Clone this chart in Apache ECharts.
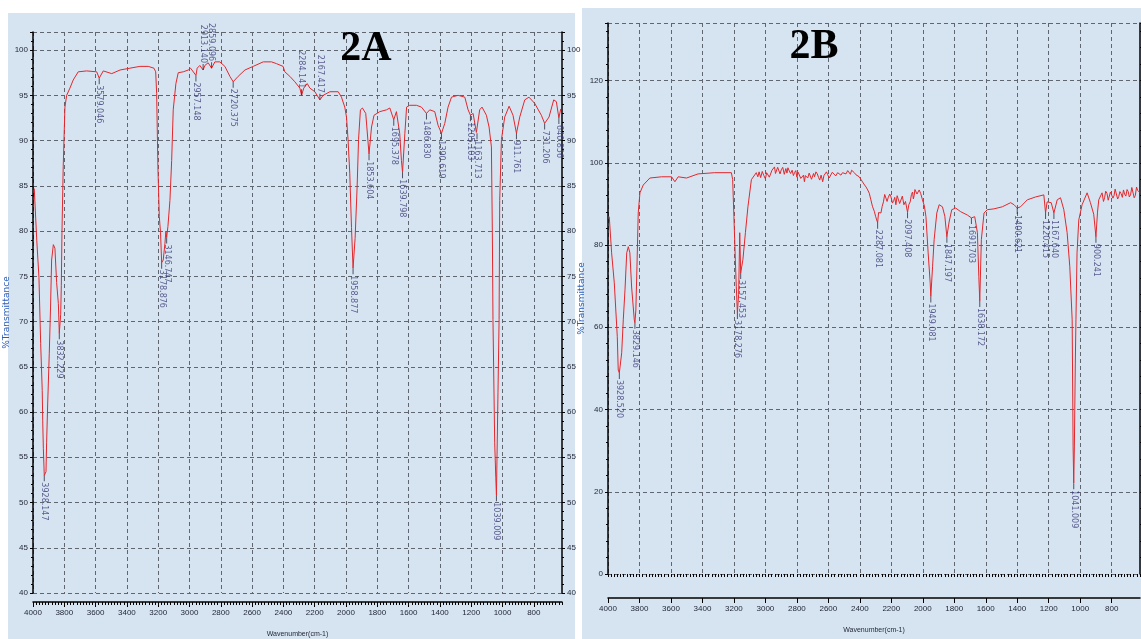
<!DOCTYPE html>
<html><head><meta charset="utf-8">
<script src="https://cdn.jsdelivr.net/npm/echarts@6/dist/echarts.min.js"></script>
<style>
html,body{margin:0;padding:0;background:#fff;}
#wrap{position:relative;width:1141px;height:639px;overflow:hidden;}
.bg{position:absolute;background:#d6e4f2;}
#c{position:absolute;left:0;top:0;width:1141px;height:639px;}
</style>
</head><body>
<div id="wrap">
<div class="bg" style="left:8px;top:13px;width:567px;height:626px;"></div>
<div class="bg" style="left:582px;top:8px;width:559px;height:631px;"></div>
<div id="c"></div>
</div>
<script>
// ---- data ----
const xTickValues = [4000,3800,3600,3400,3200,3000,2800,2600,2400,2200,2000,1800,1600,1400,1200,1000,800];

const spectrumA = [
[3992,84.7],[3976,79.0],[3962,74.9],[3951,67.6],[3941,62.4],[3938,59.1],[3934,56.0],[3928,53.0],[3917,53.4],[3913,56.6],
[3906,61.0],[3896,66.5],[3888,71.5],[3881,76.8],[3870,78.5],[3860,78.1],[3849,74.3],[3838,72.0],[3832,68.7],[3823,70.8],
[3819,74.0],[3815,79.8],[3807,87.1],[3796,93.7],[3785,95.0],[3764,95.8],[3743,96.7],[3711,97.6],[3657,97.7],[3593,97.6],
[3577,96.9],[3551,97.7],[3497,97.4],[3444,97.8],[3381,98.0],[3317,98.2],[3264,98.2],[3227,98.0],[3216,97.6],[3210,95.2],
[3202,87.1],[3193,81.6],[3185,79.8],[3178,76.5],[3168,76.8],[3157,78.6],[3151,80.0],[3146,79.3],[3138,80.5],[3125,83.4],
[3114,87.8],[3104,93.4],[3087,96.3],[3072,97.5],[3040,97.6],[3008,97.8],[2993,98.0],[2959,97.2],[2951,98.0],[2934,98.3],
[2913,97.8],[2902,98.3],[2881,98.6],[2859,98.0],[2838,98.7],[2806,98.7],[2774,98.2],[2742,97.1],[2721,96.5],[2689,97.1],
[2646,97.8],[2593,98.2],[2529,98.7],[2476,98.7],[2444,98.5],[2402,98.2],[2391,97.6],[2359,97.1],[2327,96.5],[2295,95.8],
[2284,95.0],[2270,95.8],[2248,96.3],[2231,95.8],[2199,95.4],[2167,94.5],[2146,95.0],[2103,95.4],[2050,95.4],[2029,94.8],
[2008,93.7],[1997,92.6],[1987,90.1],[1976,86.4],[1965,80.4],[1955,75.9],[1942,79.2],[1929,84.9],[1920,90.1],[1908,93.4],
[1895,93.6],[1874,93.0],[1853,88.5],[1837,91.5],[1821,92.8],[1784,93.2],[1741,93.4],[1720,93.6],[1695,92.3],[1678,93.2],
[1657,90.8],[1646,87.8],[1639,86.5],[1624,90.8],[1613,93.7],[1593,93.9],[1550,93.9],[1518,93.7],[1486,93.0],[1465,93.4],
[1433,93.2],[1412,91.7],[1390,90.8],[1369,91.9],[1348,93.7],[1326,94.8],[1284,95.0],[1241,94.8],[1220,93.4],[1205,92.8],
[1188,93.0],[1167,90.9],[1163,90.8],[1146,93.4],[1131,93.7],[1103,92.8],[1086,91.5],[1071,89.3],[1065,79.8],[1061,70.2],
[1050,56.6],[1043,52.8],[1039,50.8],[1029,62.2],[1022,70.2],[1018,83.4],[1007,90.1],[986,92.6],[958,93.8],[933,92.8],
[911,90.8],[890,92.6],[858,94.5],[831,94.8],[794,94.1],[752,92.8],[731,91.9],[703,92.6],[673,94.5],[656,94.3],
[640,92.5],[628,93.5]
];

const spectrumB = [
[3992,86.9],[3977,78.1],[3960,70.8],[3941,57.7],[3935,49.6],[3928,48.9],[3913,53.8],[3903,61.8],[3892,69.1],[3881,78.1],
[3871,79.6],[3861,78.1],[3850,69.8],[3833,61.8],[3829,61.1],[3823,64.2],[3816,74.7],[3808,87.8],[3797,92.7],[3776,94.6],
[3734,96.3],[3660,96.6],[3596,96.6],[3575,95.4],[3554,96.6],[3501,96.3],[3428,97.3],[3322,97.6],[3216,97.6],[3208,95.9],
[3200,86.9],[3191,76.4],[3185,70.0],[3178,63.5],[3170,68.0],[3163,83.0],[3157,73.2],[3143,76.4],[3127,83.0],[3111,89.3],
[3089,95.9],[3058,97.6],[3048,96.6],[3040,97.8],[3030,96.4],[3020,97.9],[3010,96.9],[3000,96.1],[2992,97.6],[2985,97.8],
[2975,96.5],[2965,96.8],[2958,98.2],[2950,98.6],[2942,99.0],[2936,97.4],[2930,97.5],[2922,98.9],[2915,98.5],[2907,97.3],
[2899,98.3],[2890,98.9],[2880,97.2],[2870,98.6],[2863,97.5],[2857,98.8],[2848,98.0],[2840,97.4],[2830,98.2],[2822,96.9],
[2815,97.6],[2807,98.1],[2800,96.5],[2792,97.7],[2785,97.5],[2775,96.2],[2765,95.8],[2758,97.0],[2752,95.4],[2746,96.9],
[2740,96.8],[2731,96.3],[2722,97.5],[2715,97.2],[2707,96.0],[2700,95.9],[2694,97.4],[2688,96.6],[2679,97.8],[2670,97.3],
[2662,96.4],[2655,95.8],[2646,97.0],[2636,95.4],[2628,96.9],[2620,96.8],[2612,97.8],[2604,97.1],[2595,96.3],[2585,96.5],
[2575,97.7],[2565,97.4],[2553,96.8],[2541,97.6],[2530,98.0],[2520,97.0],[2510,97.6],[2500,97.9],[2488,97.3],[2477,98.1],
[2468,97.8],[2460,97.2],[2452,98.2],[2445,97.8],[2435,97.6],[2425,97.1],[2415,96.8],[2404,96.6],[2392,95.9],[2380,95.6],
[2370,94.6],[2360,94.1],[2350,93.4],[2340,92.6],[2330,91.0],[2319,89.3],[2308,88.2],[2300,87.0],[2287,85.4],[2281,87.9],
[2275,87.5],[2266,87.8],[2258,89.4],[2250,90.5],[2242,92.3],[2234,92.7],[2227,90.6],[2220,91.5],[2210,92.4],[2202,91.7],
[2193,90.2],[2185,90.8],[2178,91.6],[2171,89.8],[2163,92.0],[2155,91.8],[2147,90.1],[2139,90.5],[2130,91.9],[2120,89.8],
[2110,90.6],[2097,88.0],[2088,89.9],[2080,90.5],[2072,92.3],[2065,92.9],[2060,91.2],[2055,92.0],[2050,93.5],[2044,93.9],
[2037,92.4],[2030,92.8],[2023,93.4],[2013,92.5],[2002,91.0],[1990,89.5],[1980,86.9],[1966,78.1],[1953,70.8],[1949,67.5],
[1938,74.7],[1928,81.3],[1911,87.8],[1896,89.8],[1875,89.3],[1860,87.0],[1847,82.0],[1833,85.6],[1816,88.6],[1791,89.0],
[1759,88.1],[1717,87.3],[1691,86.6],[1670,86.9],[1653,83.0],[1644,72.3],[1638,66.4],[1628,81.3],[1611,87.8],[1590,88.6],
[1548,88.8],[1495,89.3],[1442,90.3],[1420,89.8],[1400,89.0],[1379,89.3],[1336,91.0],[1283,91.7],[1231,92.2],[1220,87.8],
[1210,90.5],[1184,90.3],[1167,87.8],[1146,91.0],[1125,91.5],[1104,88.6],[1083,83.0],[1066,74.7],[1051,61.8],[1045,30.9],
[1041,22.1],[1037,30.9],[1031,51.3],[1027,61.8],[1020,78.1],[1009,86.1],[988,89.8],[956,92.7],[935,90.3],[914,87.5],
[900,82.0],[890,88.0],[882,91.0],[861,92.7],[852,90.6],[845,91.5],[838,93.1],[830,92.6],[822,90.9],[815,91.0],
[808,92.9],[800,92.8],[792,91.4],[785,92.0],[778,93.6],[770,93.2],[762,91.2],[755,91.8],[748,93.0],[740,92.5],
[732,91.6],[725,93.4],[718,92.4],[710,91.9],[702,93.5],[695,93.0],[688,91.7],[680,92.2],[672,94.0],[665,93.6],
[657,91.5],[650,92.0],[642,94.1],[635,93.3],[622,92.8]
];

const peaksA = [[3928,53.0],[3832,68.7],[3577,96.9],[3178,76.5],[3146,79.3],[2959,97.2],[2913,97.8],[2859,98.0],[2721,96.5],
[2284,95.0],[2167,94.5],[1955,75.9],[1853,88.5],[1695,92.3],[1639,86.5],[1486,93.0],[1390,90.8],[1205,92.8],[1163,90.8],
[1039,50.8],[911,90.8],[731,91.9],[640,92.5]];
const peakLabelsA = ['3928.147','3832.229','3579.046','3178.876','3146.747','2957.148','2913.140','2859.096','2720.375',
'2284.141','2167.417','1958.877','1853.604','1695.378','1639.798','1486.830','1390.619','1205.103','1163.713',
'1039.009','911.761','731.206','640.856'];
const peaksAboveA = [2913,2859,2284,2167];

const peaksB = [[3928,48.9],[3829,61.1],[3178,63.5],[3157,73.2],[2287,85.4],[2097,88.0],[1949,67.5],[1847,82.0],[1691,86.6],
[1638,66.4],[1400,89.0],[1220,87.8],[1167,87.8],[1041,22.1],[900,82.0]];
const peakLabelsB = ['3928.520','3829.146','3178.276','3157.453','2287.081','2097.408','1949.081','1847.197','1691.703',
'1638.172','1400.621','1220.415','1167.640','1041.009','900.241'];
const peaksAboveB = [];

// ---- chart ----
const gridLine = {show:true, lineStyle:{color:'#5f6670', width:1, type:[4,3]}};
const axisFont = {fontSize:8, color:'#1f2433', fontFamily:'Liberation Sans'};

function mainX(gi, offset){
  return {type:'value', gridIndex:gi, min:620, max:4000, inverse:true, position:'bottom', offset:offset,
    name:'Wavenumber(cm-1)', nameLocation:'middle', nameGap:29,
    nameTextStyle:{fontSize:7, color:'#1f2433', fontFamily:'Liberation Sans'},
    axisLine:{show:true, onZero:false, lineStyle:{color:'#000', width:1.5}},
    axisTick:{show:true, length:5, customValues:xTickValues, lineStyle:{color:'#000'}},
    axisLabel:Object.assign({customValues:xTickValues, margin:7, formatter:v => String(v)}, axisFont),
    splitLine:gridLine};
}
function minorX(gi, offset){
  return {type:'value', gridIndex:gi, min:620, max:4000, interval:20, inverse:true, position:'bottom', offset:offset,
    axisLine:{show:false}, axisLabel:{show:false}, splitLine:{show:false},
    axisTick:{show:true, length:3, lineStyle:{color:'#000'}}};
}
function yAx(gi, min, max, interval, pos, showName, showLabels, topLabel){
  return {type:'value', gridIndex:gi, min:min, max:max, interval:interval, position:pos,
    name: showName ? '%Transmittance' : '', nameLocation:'middle', nameGap:20,
    nameTextStyle:{fontSize:9, color:'#2b5cb8', fontFamily:'DejaVu Sans'},
    axisLine:{show:true, onZero:false, lineStyle:{color:'#000', width:1.5}},
    axisTick:{show:true, length:3, lineStyle:{color:'#000'}},
    minorTick:{show:true, splitNumber:5, length:2, lineStyle:{color:'#000'}},
    axisLabel:Object.assign({show:showLabels, margin:5, formatter:v => (v > topLabel ? '' : String(v))}, axisFont),
    splitLine: pos === 'left' ? gridLine : {show:false}};
}
function peakItems(peaks, labels, above){
  return peaks.map((p, i) => {
    const up = above.indexOf(p[0]) >= 0;
    return {value:p, symbol:'rect', symbolSize:[1,6], symbolOffset:[0, up ? -3 : 3],
      label:{show:true, formatter:labels[i], position: up ? 'top' : 'bottom', distance:1, rotate:-90,
        align: up ? 'right' : 'left', verticalAlign:'middle', fontSize:8, color:'#3a3a74', fontFamily:'DejaVu Sans'}};
  });
}

const chart = echarts.init(document.getElementById('c'), null, {renderer:'canvas'});
chart.setOption({
  animation:false,
  backgroundColor:'transparent',
  grid:[
    {left:33, top:32, width:529, height:561, outerBoundsMode:'none', containLabel:false},
    {left:608, top:23, width:532, height:551, outerBoundsMode:'none', containLabel:false}
  ],
  xAxis:[mainX(0,9), minorX(0,9), mainX(1,24), minorX(1,24)],
  yAxis:[
    yAx(0,40,102,5,'left',true,true,100), yAx(0,40,102,5,'right',false,true,100),
    yAx(1,0,134,20,'left',true,true,120), yAx(1,0,134,20,'right',false,false,120)
  ],
  graphic:[
    {type:'text', z:100, style:{text:'2A', x:366, y:49, textAlign:'center', textVerticalAlign:'middle',
      font:'bold 42px "Liberation Serif"', fill:'#000'}},
    {type:'text', z:100, style:{text:'2B', x:814, y:47, textAlign:'center', textVerticalAlign:'middle',
      font:'bold 42px "Liberation Serif"', fill:'#000'}}
  ],
  series:[
    {type:'line', xAxisIndex:0, yAxisIndex:0, data:spectrumA, showSymbol:false, symbol:'none',
      lineStyle:{color:'#e3262a', width:1}, z:3},
    {type:'scatter', xAxisIndex:0, yAxisIndex:0, data:peakItems(peaksA, peakLabelsA, peaksAboveA),
      itemStyle:{color:'#2c2c3c'}, z:4, silent:true},
    {type:'line', xAxisIndex:2, yAxisIndex:2, data:spectrumB, showSymbol:false, symbol:'none',
      lineStyle:{color:'#e3262a', width:1}, z:3},
    {type:'scatter', xAxisIndex:2, yAxisIndex:2, data:peakItems(peaksB, peakLabelsB, peaksAboveB),
      itemStyle:{color:'#2c2c3c'}, z:4, silent:true}
  ]
});
</script>
</body></html>
